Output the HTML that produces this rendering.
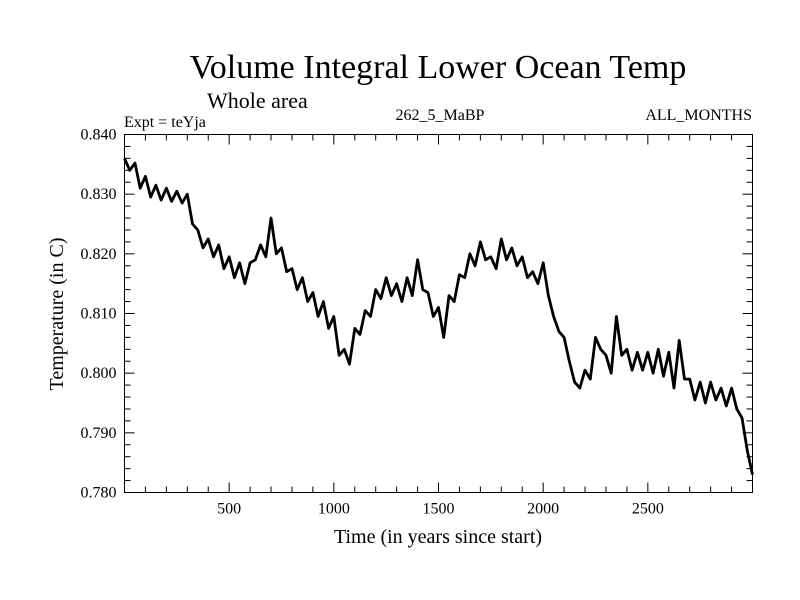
<!DOCTYPE html>
<html><head><meta charset="utf-8"><style>
body{margin:0;background:#fff}
svg{display:block;font-family:"Liberation Serif",serif}
</style></head><body>
<svg id="chart" width="800" height="600">
<text x="438" y="78" font-size="34" text-anchor="middle">Volume Integral Lower Ocean Temp</text>
<text x="207" y="108" font-size="22" text-anchor="start">Whole area</text>
<text x="124" y="127" font-size="16">Expt = teYja</text>
<text x="440" y="120" font-size="16" text-anchor="middle">262_5_MaBP</text>
<text x="752" y="120" font-size="16" text-anchor="end">ALL_MONTHS</text>
<text x="438" y="543" font-size="20" text-anchor="middle">Time (in years since start)</text>
<text x="0" y="0" font-size="20" text-anchor="middle" transform="translate(63,314) rotate(-90)">Temperature (in C)</text>
<g id="axes"></g>
<path id="series" fill="none" stroke="#000" stroke-width="2.8" stroke-linejoin="round"></path>
<rect x="124.5" y="134.5" width="628" height="358" fill="none" stroke="#000" stroke-width="1"></rect>
</svg>
<script>
const years = [];
for (let i = 0; i <= 120; i++) years.push(i * 25);
const temps = [.8360,.8340,.8352,.8310,.8330,.8295,.8315,.8290,.8310,.8288,.8305,.8285,.8300,.8250,.8240,.8210,.8225,.8195,.8215,.8175,.8195,.8160,.8185,.8150,.8185,.8190,.8215,.8195,.8260,.8200,.8210,.8170,.8175,.8140,.8160,.8120,.8135,.8095,.8120,.8075,.8095,.8030,.8040,.8015,.8075,.8065,.8105,.8095,.8140,.8125,.8160,.8130,.8150,.8120,.8160,.8130,.8190,.8140,.8135,.8095,.8110,.8060,.8130,.8120,.8165,.8160,.8200,.8180,.8220,.8190,.8195,.8175,.8225,.8190,.8210,.8180,.8195,.8160,.8170,.8150,.8185,.8130,.8095,.8070,.8060,.8020,.7985,.7975,.8005,.7990,.8060,.8040,.8030,.8000,.8095,.8030,.8040,.8005,.8035,.8005,.8035,.8000,.8040,.7995,.8035,.7975,.8055,.7990,.7990,.7955,.7985,.7950,.7985,.7955,.7975,.7945,.7975,.7940,.7925,.7870,.7830];
const xTicks = [500,1000,1500,2000,2500];
const yTicks = [0.840,0.830,0.820,0.810,0.800,0.790,0.780];
const X0=124.5,X1=752.5,Y0=134.5,Y1=492.5, XMIN=0,XMAX=3000,YMIN=0.780,YMAX=0.840;
const sx=v=>X0+(v-XMIN)/(XMAX-XMIN)*(X1-X0);
const sy=v=>Y1-(v-YMIN)/(YMAX-YMIN)*(Y1-Y0);
const NS='http://www.w3.org/2000/svg';
const axes=document.getElementById('axes');
function line(x1,y1,x2,y2){const l=document.createElementNS(NS,'line');l.setAttribute('x1',x1);l.setAttribute('y1',y1);l.setAttribute('x2',x2);l.setAttribute('y2',y2);l.setAttribute('stroke','#000');


axes.appendChild(l);}
for(let v=100;v<XMAX;v+=100){const x=sx(v);const L=(v%500===0)?10:6;line(x,Y1,x,Y1-L);line(x,Y0,x,Y0+L);}
for(let k=0;k<=30;k++){const v=YMIN+k*0.002;const y=sy(v);const L=(k%5===0)?10:6;line(X0,y,X0+L,y);line(X1,y,X1-L,y);}
xTicks.forEach(v=>{const t=document.createElementNS(NS,'text');t.setAttribute('x',sx(v));t.setAttribute('y',Y1+21);t.setAttribute('font-size','16');t.setAttribute('text-anchor','middle');t.textContent=v;


axes.appendChild(t);});
yTicks.forEach(v=>{const t=document.createElementNS(NS,'text');t.setAttribute('x',X0-8);t.setAttribute('y',sy(v)+5);t.setAttribute('font-size','16');t.setAttribute('text-anchor','end');t.textContent=v.toFixed(3);


axes.appendChild(t);});
let d='';years.forEach((yr,i)=>{d+=(i?'L':'M')+sx(yr).toFixed(1)+','+sy(temps[i]).toFixed(1);});
document.getElementById('series').setAttribute('d',d);
</script>
</body></html>
